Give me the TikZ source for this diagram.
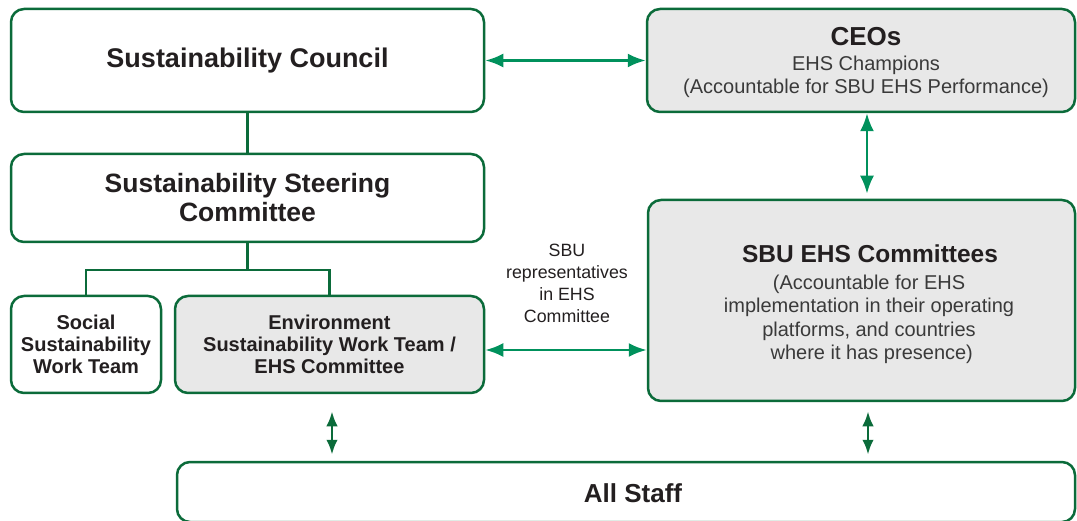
\documentclass[tikz,border=0pt]{standalone}
\usepackage{fontspec}
\setmainfont{Liberation Sans}
\usetikzlibrary{arrows.meta,calc}
\definecolor{boxgreen}{HTML}{0B6B3A}
\definecolor{arrgreen}{HTML}{00915C}
\definecolor{boxgray}{HTML}{E8E8E8}
\definecolor{ink}{HTML}{231F20}
\definecolor{soft}{HTML}{3A3A3A}
\tikzset{
  box/.style={draw=boxgreen, line width=2.5pt, rounded corners=13pt, fill=white, align=center, text=ink, inner sep=0pt},
  graybox/.style={box, fill=boxgray},
  tline/.style={draw=boxgreen, line width=2.5pt},
  biarrow/.style={draw=arrgreen, line width=2.6pt, {Latex[length=18pt,width=14pt]}-{Latex[length=18pt,width=14pt]}},
  smallarrow/.style={draw=boxgreen, line width=2.8pt, {Latex[length=15pt,width=11.5pt]}-{Latex[length=15pt,width=11.5pt]}},
  head/.style={font=\fontsize{27}{29}\selectfont\bfseries},
  mid/.style={font=\fontsize{20}{22}\selectfont\bfseries},
  plain/.style={font=\fontsize{20}{23.5}\selectfont, text=soft},
}
\begin{document}
\begin{tikzpicture}[x=1pt,y=-1pt]
\useasboundingbox (0,0) rectangle (1077,521);
% boxes
\node[box, minimum width=473pt, minimum height=103pt, head] (council) at (247.5,60.5) {Sustainability Council};
\node[graybox, minimum width=428pt, minimum height=103pt] (ceo) at (861,60.5) {};
\node[font=\fontsize{26}{29}\selectfont\bfseries, text=ink] (ceot) at (866,37) {CEOs};
\node[plain, anchor=north, align=center] (ceosub) at (866,52) {EHS Champions\\(Accountable for SBU EHS Performance)};
\node[box, minimum width=473pt, minimum height=88pt, font=\fontsize{26.5}{29}\selectfont\bfseries] (steer) at (247.5,198) {Sustainability Steering\\Committee};
\node[box, minimum width=150pt, minimum height=97pt, mid] (social) at (86,344.5) {Social\\Sustainability\\Work Team};
\node[graybox, minimum width=309pt, minimum height=97pt, mid] (env) at (329.5,344.5) {Environment\\Sustainability Work Team /\\EHS Committee};
\node[graybox, minimum width=427pt, minimum height=201pt] (sbu) at (861.5,300.5) {};
\node[font=\fontsize{24.5}{27}\selectfont\bfseries, text=ink] (sbut) at (870,254) {SBU EHS Committees};
\node[plain, anchor=north, align=center] (sbusub) at (869,271) {(Accountable for EHS\\implementation in their operating\\platforms, and countries\\\ where it has presence)};
\node[box, minimum width=898pt, minimum height=60pt] (staff) at (626,492) {};
\node[font=\fontsize{26}{29}\selectfont\bfseries, text=ink] (stafft) at (633,493) {All Staff};
\node[font=\fontsize{17.8}{22}\selectfont, text=ink, align=center] (rep) at (567,283) {SBU\\representatives\\in EHS\\Committee};
% tree lines
\coordinate (fork) at (247.5,270);
\draw[tline] (council.south) -- (steer.north);
\draw[tline] (steer.south) -- (fork);
\draw[tline] (fork) -| (social.north);
\draw[tline] (fork) -| (env.north);
% arrows
\draw[biarrow] (council.east) -- (ceo.west);
\draw[biarrow, shorten >=5pt] ([xshift=6pt]ceo.south) -- ([xshift=6pt]ceo.south |- sbu.north);
\draw[biarrow] ([yshift=-5.5pt]env.east) -- ([yshift=-5.5pt]env.east -| sbu.west);
\draw[smallarrow, shorten <=17pt, shorten >=6pt] ([xshift=2.5pt]env.south) -- ([xshift=2.5pt]env.south |- staff.north);
\draw[smallarrow, shorten <=9pt, shorten >=6pt] ([xshift=6.5pt]sbu.south) -- ([xshift=6.5pt]sbu.south |- staff.north);
\end{tikzpicture}
\end{document}
